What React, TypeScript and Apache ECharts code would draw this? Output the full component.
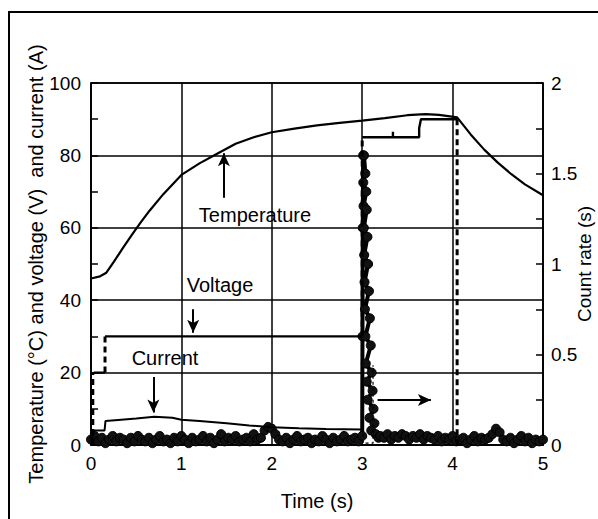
import { useEffect, useRef } from 'react';
import * as echarts from 'echarts';

// ---- data ----
const temperatureTime = [0, 0.1, 0.17, 0.25, 0.35, 0.45, 0.55, 0.65, 0.8, 1.0, 1.2, 1.4, 1.6, 1.8, 2.0, 2.25, 2.5, 2.75, 3.0, 3.25, 3.5, 3.7, 3.85, 4.05, 4.2, 4.35, 4.5, 4.65, 4.8, 5.0];
const temperatureValues = [46, 46.6, 47.6, 50.5, 54.3, 58, 61.5, 64.8, 69.3, 74.6, 77.8, 80.5, 83.2, 85.0, 86.4, 87.4, 88.3, 89.0, 89.6, 90.3, 91.1, 91.4, 91.2, 90.5, 85.8, 81.6, 78, 74.8, 72, 69];

const currentTime = [0.0, 0.03, 0.15, 0.16, 0.3, 0.5, 0.7, 0.9, 1.0, 1.2, 1.5, 1.75, 2.0, 2.3, 2.6, 3.0];
const currentValues = [0.5, 4.0, 4.0, 6.6, 6.9, 7.3, 7.8, 7.5, 7.0, 6.6, 6.0, 5.4, 4.9, 4.6, 4.4, 4.3];
const currentDashTime = [3.01, 3.01, 3.12, 3.12];
const currentDashValues = [28, 0.5, 0.5, 22];

const voltageTime = [0.03, 0.155, null, 0.155, 3.0, null, 3.0, 3.34, 3.34, 3.34, 3.63, 3.63, 3.65, 4.05];
const voltageValues = [20, 20, null, 30, 30, null, 85, 85, 86.5, 85, 85, 87.5, 90, 90];
const voltageStepTime = [0.02, 0.02, null, 0.155, 0.155, null, 3.0, 3.0, null, 4.05, 4.05];
const voltageStepValues = [0, 20, null, 20, 30, null, 30, 85, null, 90, 0];

// count rate (right axis): noise before the burst, the burst, noise after
const countEarlyStart = 0;
const countLateStart = 3.2;
const countStep = 0.04;
const countEarly = [
  0.03, 0.05, 0.02, 0.04, 0.01, 0.03, 0.05, 0.02, 0.04, 0.03,
  0.01, 0.04, 0.02, 0.05, 0.03, 0.02, 0.04, 0.01, 0.03, 0.05,
  0.02, 0.03, 0.01, 0.04, 0.02, 0.05, 0.03, 0.01, 0.04, 0.02,
  0.03, 0.05, 0.02, 0.04, 0.01, 0.03, 0.06, 0.02, 0.04, 0.03,
  0.05, 0.02, 0.03, 0.04, 0.02, 0.06, 0.03, 0.04, 0.08, 0.1,
  0.09, 0.06, 0.03, 0.02, 0.04, 0.01, 0.03, 0.05, 0.02, 0.03,
  0.04, 0.01, 0.03, 0.02, 0.05, 0.03, 0.01, 0.04, 0.02, 0.03,
  0.05, 0.02, 0.03, 0.04, 0.02,
];
const spikeTime = [3.0, 3.003, 3.006, 3.01, 3.02, 3.035, 3.012, 3.045, 3.015, 3.05, 3.018, 3.058, 3.022, 3.065, 3.026, 3.075, 3.03, 3.085, 3.035, 3.095, 3.04, 3.105, 3.05, 3.115, 3.06, 3.125, 3.08, 3.135, 3.1, 3.15, 3.18];
const spikeValues = [0.05, 0.6, 1.2, 1.6, 1.6, 1.5, 1.45, 1.4, 1.32, 1.3, 1.2, 1.15, 1.05, 1.0, 0.9, 0.85, 0.75, 0.7, 0.6, 0.55, 0.45, 0.4, 0.35, 0.3, 0.25, 0.2, 0.15, 0.12, 0.08, 0.06, 0.04];
const countLate = [
  0.05, 0.04, 0.06, 0.03, 0.05, 0.04, 0.06, 0.05, 0.03, 0.05,
  0.04, 0.06, 0.03, 0.05, 0.04, 0.03, 0.05, 0.02, 0.04, 0.03,
  0.05, 0.02, 0.03, 0.04, 0.01, 0.03, 0.05, 0.02, 0.04, 0.03,
  0.04, 0.06, 0.09, 0.07, 0.03, 0.02, 0.04, 0.01, 0.03, 0.05,
  0.02, 0.04, 0.01, 0.03, 0.02, 0.03,
];

const leftTicks = { min: 0, max: 100, interval: 20 };
const rightTicks = { min: 0, max: 2, interval: 0.5 };
const timeTicks = { min: 0, max: 5, interval: 1 };

// annotation arrows (data coordinates)
const arrowTemperature = [[1.47, 68.3], [1.47, 80.6]];
const arrowVoltage = [[1.13, 37.5], [1.13, 31.0]];
const arrowCurrent = [[0.69, 18.8], [0.69, 9.0]];
const arrowCount = [[3.17, 12.4], [3.76, 12.4]];

const FONT = '"Liberation Sans", Arial, sans-serif';

function pairs(ts: (number | null)[], vs: (number | null)[]) {
  const segs: number[][][] = [];
  let cur: number[][] = [];
  ts.forEach((t, i) => {
    const v = vs[i];
    if (t === null || v === null) {
      if (cur.length) segs.push(cur);
      cur = [];
    } else cur.push([t, v]);
  });
  if (cur.length) segs.push(cur);
  return segs;
}

export default function App() {
  const ref = useRef<HTMLDivElement>(null);
  useEffect(() => {
    document.body.style.margin = '0';
    const chart = echarts.init(ref.current!, null, { renderer: 'svg' });
    const countData: number[][] = [];
    countEarly.forEach((v, i) => countData.push([+(countEarlyStart + i * countStep).toFixed(3), v]));
    spikeTime.forEach((t, i) => countData.push([t, spikeValues[i]]));
    countLate.forEach((v, i) => countData.push([+(countLateStart + i * countStep).toFixed(3), v]));

    const black = '#000';
    const lineSeries = (data: number[][], width = 2, type: any = 'solid') => ({
      type: 'line',
      data,
      yAxisIndex: 0,
      showSymbol: false,
      symbol: 'none',
      lineStyle: { color: black, width, type },
      z: 5,
      silent: true,
    });

    const arrowMark = (pts: number[][]) => ({
      type: 'line',
      data: [],
      yAxisIndex: 0,
      silent: true,
      markLine: {
        silent: true,
        symbol: ['none', 'arrow'],
        symbolSize: [9, 13],
        label: { show: false },
        lineStyle: { color: black, width: 2, type: 'solid' },
        data: [[{ coord: pts[0] }, { coord: pts[1] }]],
      },
    });

    const series: any[] = [];
    series.push({
      type: 'line',
      data: countData,
      yAxisIndex: 1,
      symbol: 'circle',
      symbolSize: 9,
      showSymbol: true,
      showAllSymbol: true,
      itemStyle: { color: '#111', borderColor: black, borderWidth: 1 },
      lineStyle: { color: black, width: 4 },
      z: 3,
      silent: true,
    });
    series.push(lineSeries(temperatureTime.map((t, i) => [t, temperatureValues[i]]), 2.2));
    series.push(lineSeries(currentTime.map((t, i) => [t, currentValues[i]]), 2));
    series.push(lineSeries(currentDashTime.map((t, i) => [t, currentDashValues[i]]), 1.2, [3, 3]));
    pairs(voltageTime, voltageValues).forEach((s) => series.push(lineSeries(s, 2.4)));
    pairs(voltageStepTime, voltageStepValues).forEach((s) => series.push(lineSeries(s, 3, [6, 4])));
    [arrowTemperature, arrowVoltage, arrowCurrent, arrowCount].forEach((a) => series.push(arrowMark(a)));

    const labelStyle = { color: black, fontSize: 19, fontFamily: FONT };

    chart.setOption({
      animation: false,
      backgroundColor: '#fff',
      grid: { left: 91, right: 55, top: 83, bottom: 74, outerBoundsMode: 'none', containLabel: false, show: true, borderColor: black, borderWidth: 1.5, backgroundColor: 'transparent' },
      xAxis: {
        type: 'value',
        ...timeTicks,
        name: 'Time (s)',
        nameLocation: 'middle',
        nameGap: 46,
        nameMoveOverlap: false,
        nameTextStyle: { ...labelStyle, fontSize: 20 },
        axisLine: { show: true, lineStyle: { color: black, width: 1.5 } },
        axisTick: { show: false },
        splitLine: { show: true, lineStyle: { color: black, width: 1.5 } },
        axisLabel: { ...labelStyle, margin: 9 },
      },
      yAxis: [
        {
          type: 'value',
          ...leftTicks,
          name: 'Temperature (°C) and voltage (V)  and current (A)',
          nameLocation: 'middle',
          nameGap: 45,
          nameMoveOverlap: false,
          nameRotate: 90,
          nameTextStyle: { ...labelStyle, fontSize: 20 },
          axisLine: { show: true, lineStyle: { color: black, width: 1.5 } },
          axisTick: { show: true, inside: true, length: 7, lineStyle: { color: black, width: 1.5 } },
          minorTick: { show: true, splitNumber: 2, length: 7, lineStyle: { color: black, width: 1.5 } },
          splitLine: { show: true, lineStyle: { color: black, width: 1.5 } },
          axisLabel: { ...labelStyle, margin: 10 },
        },
        {
          type: 'value',
          ...rightTicks,
          position: 'right',
          name: 'Count rate (s)',
          nameLocation: 'middle',
          nameGap: 32,
          nameMoveOverlap: false,
          nameRotate: 90,
          nameTextStyle: { ...labelStyle, fontSize: 19 },
          axisLine: { show: true, lineStyle: { color: black, width: 1.5 } },
          axisTick: { show: true, inside: true, length: 7, lineStyle: { color: black, width: 1.5 } },
          minorTick: { show: true, splitNumber: 2, length: 7, lineStyle: { color: black, width: 1.5 } },
          splitLine: { show: false },
          axisLabel: { ...labelStyle, margin: 8 },
        },
      ],
      graphic: [
        { type: 'rect', shape: { x: 9, y: 12, width: 700, height: 700 }, style: { fill: 'none', stroke: black, lineWidth: 2 }, z: 100 },
        { type: 'text', x: 255, y: 215, style: { text: 'Temperature', fontSize: 20, fontFamily: FONT, fill: black, align: 'center', verticalAlign: 'middle' }, z: 100 },
        { type: 'text', x: 220, y: 285, style: { text: 'Voltage', fontSize: 20, fontFamily: FONT, fill: black, align: 'center', verticalAlign: 'middle' }, z: 100 },
        { type: 'text', x: 165, y: 358, style: { text: 'Current', fontSize: 20, fontFamily: FONT, fill: black, align: 'center', verticalAlign: 'middle' }, z: 100 },
      ],
      series,
    });
    return () => chart.dispose();
  }, []);
  return <div ref={ref} style={{ position: 'fixed', left: 0, top: 0, width: 598, height: 519 }} />;
}
